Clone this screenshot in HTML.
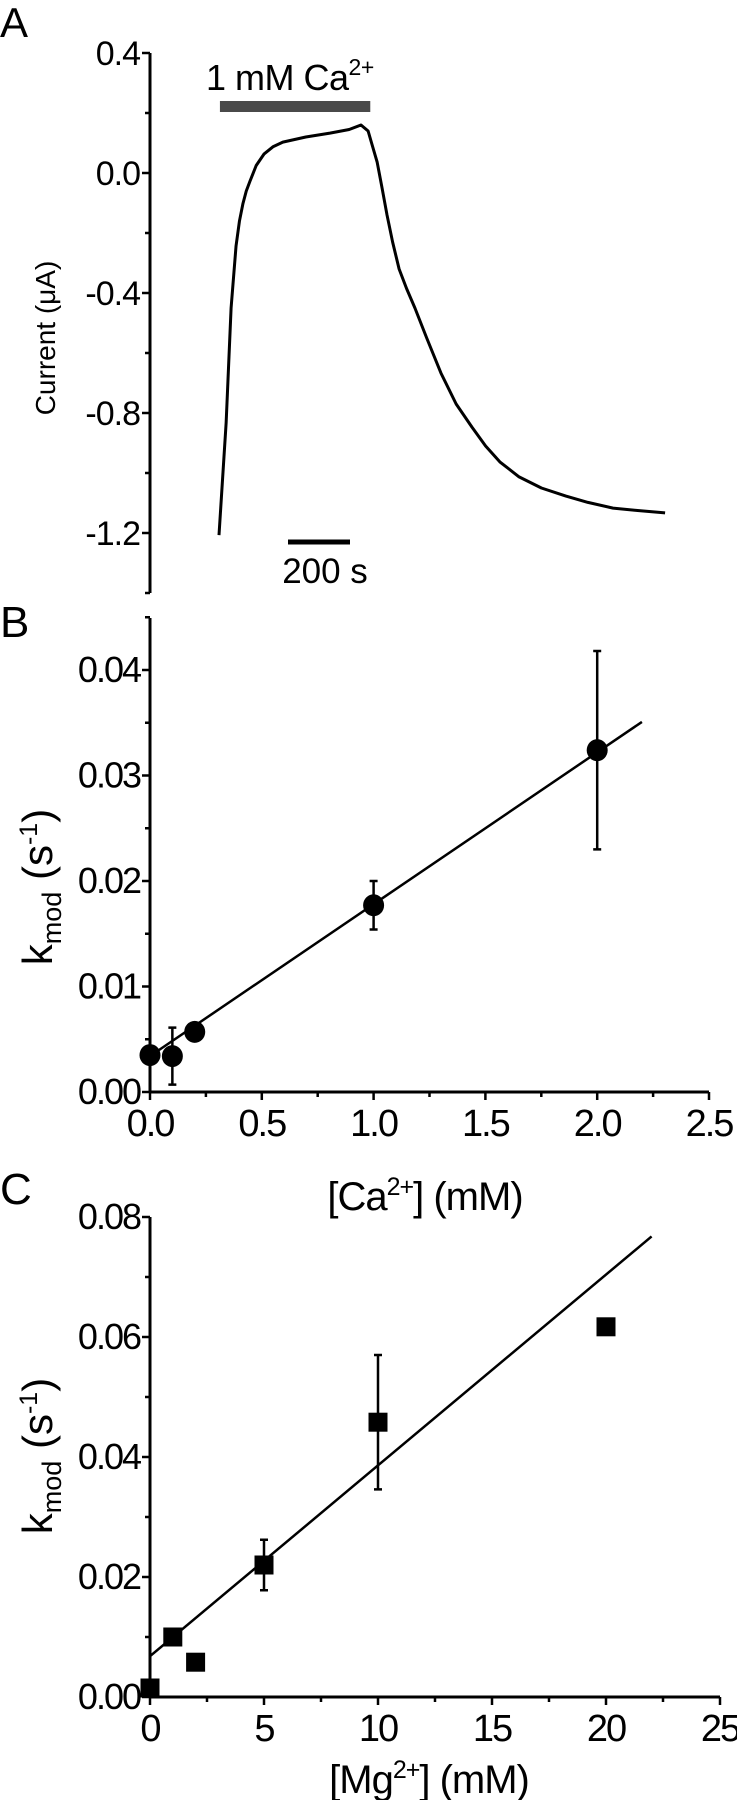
<!DOCTYPE html>
<html><head><meta charset="utf-8"><style>
html,body{margin:0;padding:0;background:#fff;}
svg{display:block;font-family:"Liberation Sans",Arial,sans-serif;}
</style></head><body>
<svg id="fig" width="737" height="1800" viewBox="0 0 737 1800" xmlns="http://www.w3.org/2000/svg">
<g id="pa"></g>
<g id="pb"></g>
<g id="pc"></g>
</svg>
<script>
// Panel A data
const traceTime = [0,23,39,55,66,77,88,100,120,145,175,206,280,358,420,458,481,495,510,526,542,560,581,605,632,670,716,765,816,860,906,968,1040,1119,1190,1271,1350,1439];
const traceCurrent = [-1.207,-0.833,-0.45,-0.243,-0.16,-0.103,-0.06,-0.027,0.025,0.063,0.088,0.103,0.12,0.133,0.145,0.16,0.14,0.09,0.037,-0.05,-0.14,-0.23,-0.32,-0.385,-0.45,-0.55,-0.667,-0.77,-0.847,-0.91,-0.963,-1.013,-1.05,-1.077,-1.098,-1.117,-1.125,-1.133];
const aTicks = [0.4,0.0,-0.4,-0.8,-1.2];
const aTickLabels = ["0.4","0.0","-0.4","-0.8","-1.2"];
const caBarTimes = [3,488];
const scaleBarSeconds = 200;
// Panel B data
const caConc = [0,0.1,0.2,1.0,2.0];
const caK = [0.0035,0.0034,0.0057,0.0177,0.0324];
const caErr = [0,0.0027,0.0004,0.0023,0.0094];
const caFit = [0.0034,0.0144];
const bYTicks = [0,0.01,0.02,0.03,0.04];
const bYLabels = ["0.00","0.01","0.02","0.03","0.04"];
const bXTicks = [0,0.5,1.0,1.5,2.0,2.5];
const bXLabels = ["0.0","0.5","1.0","1.5","2.0","2.5"];
// Panel C data
const mgConc = [0,1,2,5,10,20];
const mgK = [0.0015,0.0100,0.0058,0.0220,0.0458,0.0617];
const mgErr = [0,0,0,0.0042,0.0112,0.0012];
const mgFit = [0.0068,0.00318];
const cYTicks = [0,0.02,0.04,0.06,0.08];
const cYLabels = ["0.00","0.02","0.04","0.06","0.08"];
const cXTicks = [0,5,10,15,20,25];
const cXLabels = ["0","5","10","15","20","25"];

const NS="http://www.w3.org/2000/svg";
function mk(parent,tag,attrs,text){const e=document.createElementNS(NS,tag);for(const k in attrs)e.setAttribute(k,attrs[k]);if(text!==undefined)e.textContent=text;parent.appendChild(e);return e;}

// ---------- Panel A ----------
const pa=document.getElementById('pa');
const axA=150, aX=t=>219+t*0.31, aY=v=>173-v*300;
let e=mk(pa,'text',{x:0,y:37,'font-size':42},'A');


e=mk(pa,'line',{x1:axA,y1:aY(0.4),x2:axA,y2:593,stroke:'#000','stroke-width':3});


for(let v=0.4;v>=-1.5;v-=0.2){const y=aY(v);const major=Math.abs(Math.round(v*10))%4===0;mk(pa,'line',{x1:axA-(major?8:5),y1:y,x2:axA,y2:y,stroke:'#000','stroke-width':2.5});}
aTicks.forEach((v,i)=>{e=mk(pa,'text',{x:axA-10,y:aY(v)+12,'font-size':34,'text-anchor':'end','letter-spacing':-1},aTickLabels[i]);

});
e=mk(pa,'text',{transform:'translate(55,338) rotate(-90)','font-size':28,'text-anchor':'middle'},'Current (μA)');


e=mk(pa,'polyline',{points:traceTime.map((t,i)=>aX(t)+','+aY(traceCurrent[i])).join(' '),fill:'none',stroke:'#000','stroke-width':3,'stroke-linejoin':'round'});


e=mk(pa,'rect',{x:aX(caBarTimes[0]),y:101,width:aX(caBarTimes[1])-aX(caBarTimes[0]),height:11,fill:'#4a4a4a'});


e=mk(pa,'text',{x:206,y:90,'font-size':36,'letter-spacing':-0.5},'1 mM Ca');


mk(e,'tspan',{dy:-15,'font-size':23},'2+');
e=mk(pa,'line',{x1:288,y1:542,x2:288+scaleBarSeconds*0.31,y2:542,stroke:'#000','stroke-width':5});


e=mk(pa,'text',{x:325,y:583,'font-size':35,'text-anchor':'middle'},'200 s');



// ---------- generic scatter panel ----------
function panel(g,o){
  const X=v=>150+v*o.xs, Y=v=>o.y0-v*o.ys;
  let e=mk(g,'text',{x:0,y:o.letterY,'font-size':44},o.letter);
  
  
  e=mk(g,'line',{x1:150,y1:o.axTop,x2:150,y2:o.y0,stroke:'#000','stroke-width':3});
  
  
  e=mk(g,'line',{x1:150,y1:o.y0,x2:X(o.xMax),y2:o.y0,stroke:'#000','stroke-width':3});
  
  
  const yStep=o.yt[1]-o.yt[0];
  for(let v=0;Y(v)>=o.axTop-1;v+=yStep/2){const major=Math.abs(v/yStep-Math.round(v/yStep))<1e-6;mk(g,'line',{x1:150-(major?8:5),y1:Y(v),x2:150,y2:Y(v),stroke:'#000','stroke-width':2.5});}
  const xStep=o.xt[1]-o.xt[0];
  for(let v=0;v<=o.xMax+1e-9;v+=xStep/2){const major=Math.abs(v/xStep-Math.round(v/xStep))<1e-6;mk(g,'line',{x1:X(v),y1:o.y0,x2:X(v),y2:o.y0+(major?8:5),stroke:'#000','stroke-width':2.5});}
  o.yt.forEach((v,i)=>{e=mk(g,'text',{x:140,y:Y(v)+12,'font-size':36,'text-anchor':'end','letter-spacing':-2},o.yl[i]);
  
  });
  o.xt.forEach((v,i)=>{e=mk(g,'text',{x:X(v),y:o.y0+44,'font-size':38,'text-anchor':'middle','letter-spacing':-2},o.xl[i]);
  
  });
  e=mk(g,'text',{x:o.titleX,y:o.titleY,'font-size':40,'text-anchor':'middle','letter-spacing':-1},'['+o.ion);
  
  
  mk(e,'tspan',{dy:-15,'font-size':25},'2+');
  mk(e,'tspan',{dy:15},'] (mM)');
  e=mk(g,'text',{transform:'translate(52,'+o.ylabY+') rotate(-90)','font-size':42,'text-anchor':'middle'},'k');
  
  
  mk(e,'tspan',{dy:9,'font-size':27},'mod');
  mk(e,'tspan',{dy:-9},' (s');
  mk(e,'tspan',{dy:-15,'font-size':25},'-1');
  mk(e,'tspan',{dy:15},')');
  e=mk(g,'line',{x1:X(0),y1:Y(o.fit[0]),x2:X(o.fitEnd),y2:Y(o.fit[0]+o.fit[1]*o.fitEnd),stroke:'#000','stroke-width':2.5});
  
  
  o.xs_.forEach((xv,i)=>{
    const cx=X(xv),cy=Y(o.ys_[i]);
    if(o.err[i]>0){
      const t=Y(o.ys_[i]+o.err[i]),b=Y(o.ys_[i]-o.err[i]);
      e=mk(g,'path',{d:`M${cx},${t}V${b}M${cx-4},${t}H${cx+4}M${cx-4},${b}H${cx+4}`,stroke:'#000','stroke-width':2.5,fill:'none'});
      
      
    }
    if(o.shape==='circle') e=mk(g,'ellipse',{cx:cx,cy:cy,rx:10.5,ry:11,fill:'#000'});
    else e=mk(g,'rect',{x:cx-9.5,y:cy-9.5,width:19,height:19,fill:'#000'});
    
    
  });
}
panel(document.getElementById('pb'),{letter:'B',letterY:637,axTop:618,y0:1092,ys:10550,xs:223.6,xMax:2.5,
  yt:bYTicks,yl:bYLabels,xt:bXTicks,xl:bXLabels,ion:'Ca',titleX:425,titleY:1210,ylabY:887,
  fit:caFit,fitEnd:2.2,xs_:caConc,ys_:caK,err:caErr,shape:'circle'});
panel(document.getElementById('pc'),{letter:'C',letterY:1204,axTop:1217,y0:1697,ys:6000,xs:22.8,xMax:25,
  yt:cYTicks,yl:cYLabels,xt:cXTicks,xl:cXLabels,ion:'Mg',titleX:429,titleY:1793,ylabY:1456,
  fit:mgFit,fitEnd:22,xs_:mgConc,ys_:mgK,err:mgErr,shape:'square'});
</script>
</body></html>
